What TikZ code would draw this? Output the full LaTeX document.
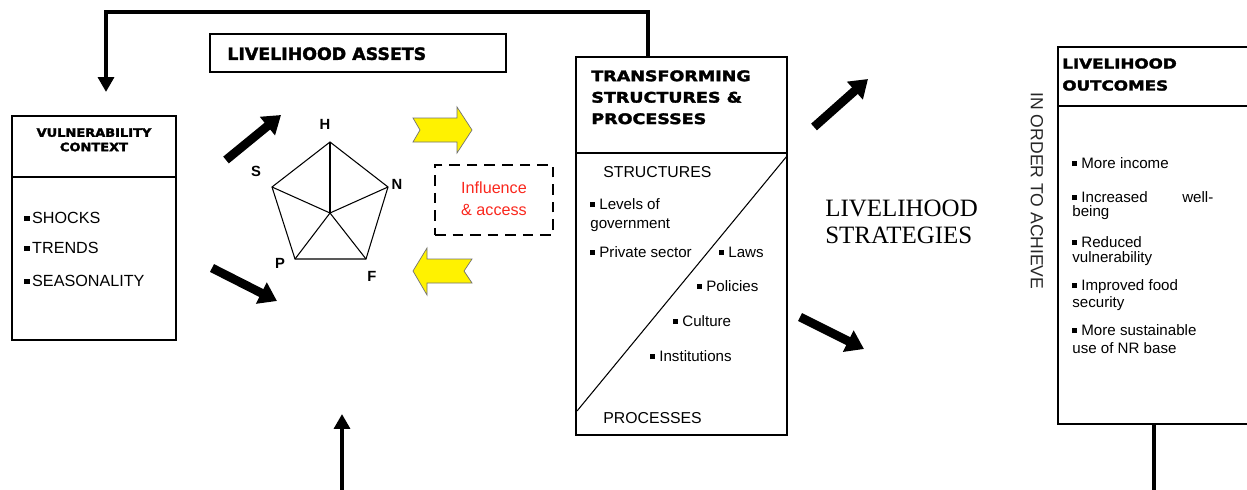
\documentclass[tikz,border=0pt]{standalone}
\usepackage{fontspec}
\setmainfont{Liberation Sans}
\newfontfamily\heavy{DejaVu Sans}[BoldFeatures={FakeBold=2}]
\newfontfamily\serifx{Liberation Serif}
\usetikzlibrary{arrows.meta,fit,calc}
\newcommand\fs[2]{\fontsize{#1}{#2}\selectfont}
\newcommand\hx[2]{\scalebox{#1}[1]{#2}}
\newcommand\bul{\raisebox{0.22ex}{\rule{0.32em}{0.32em}}}
\definecolor{ired}{RGB}{250,40,30}
\begin{document}
\begin{tikzpicture}[x=0.02cm,y=-0.02cm,
  box/.style={draw, line width=0.8pt, inner sep=0pt},
  divline/.style={line width=0.8pt},
  thinline/.style={line width=0.6pt},
  thickarrow/.style={line width=5pt, -{Triangle[length=10pt,width=13pt]}},
  feedback/.style={line width=2.2pt, -{Triangle[length=8.5pt,width=9pt]}},
  feedline/.style={line width=2.2pt},
  itm/.style={anchor=base west, inner sep=0pt, font=\fs{8.6}{10}},
  hv/.style={inner sep=0pt, font=\heavy\bfseries},
  lab/.style={inner sep=0pt, font=\bfseries\fs{8.4}{10}},
  yarrow/.style={fill=yellow, draw=black!55, line width=0.4pt}
]
\useasboundingbox (0,0) rectangle (1247,490);
\fill[white] (0,0) rectangle (1247,490);

% ---------- Vulnerability context ----------
\node[box, fit={(12,116)(176,340)}] (vc) {};
\coordinate (vcdl) at (12,177);
\coordinate (vcdr) at (176,177);
\draw[divline] (vcdl) -- (vcdr);
\node[hv, anchor=north, align=center, font=\heavy\bfseries\fs{6.6}{8.2}] (vct) at (94,128)
  {\hx{1.12}{VULNERABILITY}\\\hx{1.12}{CONTEXT}};
\node[itm, font=\fs{9.2}{11}] (vc1) at (24,223) {\bul\,SHOCKS};
\node[itm, font=\fs{9.2}{11}] (vc2) at (24,253) {\bul\,TRENDS};
\node[itm, font=\fs{9.2}{11}] (vc3) at (24,286) {\bul\,SEASONALITY};

% ---------- Livelihood assets ----------
\node[box, fit={(210,34)(506,72)}] (la) {};
\node[hv, anchor=north west, font=\heavy\bfseries\fs{9.6}{11}] (lat) at (227,47) {\hx{1.03}{LIVELIHOOD ASSETS}};

% ---------- Pentagon ----------
\coordinate (H) at (330,142);
\coordinate (N) at (388,187);
\coordinate (F) at (366,259);
\coordinate (P) at (295,259);
\coordinate (S) at (272,187);
\coordinate (C) at (330,213);
\draw[thinline] (H) -- (N) -- (F) -- (P) -- (S) -- cycle;
\foreach \v in {H,N,F,P,S} \draw[thinline] (C) -- (\v);
\node[lab] (lH) at (325,124) {H};
\node[lab] (lN) at (397,184) {N};
\node[lab] (lF) at (372,276) {F};
\node[lab] (lP) at (280,263) {P};
\node[lab] (lS) at (256,171) {S};

% ---------- Black arrows ----------
\coordinate (a1s) at (226,160); \coordinate (a1e) at (281,115);
\coordinate (a2s) at (212,268); \coordinate (a2e) at (277,301);
\coordinate (a3s) at (814,127); \coordinate (a3e) at (868,79);
\coordinate (a4s) at (800,317); \coordinate (a4e) at (864,349);
\draw[thickarrow] (a1s) -- (a1e);
\draw[thickarrow] (a2s) -- (a2e);
\draw[thickarrow] (a3s) -- (a3e);
\draw[thickarrow] (a4s) -- (a4e);

% ---------- Yellow arrows ----------
\draw[yarrow] (413,118) -- (457,118) -- (457,107) -- (472,130) -- (457,153) -- (457,142) -- (413,142) -- (420,130) -- cycle;
\draw[yarrow] (413,271) -- (427,248) -- (427,259) -- (472,259) -- (464,271) -- (472,283) -- (427,283) -- (427,295) -- cycle;

% ---------- Influence & access ----------
\node[draw, line width=1.3pt, dash pattern=on 6pt off 4pt, inner sep=0pt, fit={(435,165)(553,235)}] (ia) {};
\node[inner sep=0pt, align=center, text=ired, font=\fs{9.2}{12.5}] (iat) at (494,199) {Influence\\\& access};

% ---------- Transforming structures ----------
\node[box, fit={(576,57)(787,435)}] (ts) {};
\coordinate (tsdl) at (576,153);
\coordinate (tsdr) at (787,153);
\draw[divline] (tsdl) -- (tsdr);
\coordinate (dg1) at (787,156);
\coordinate (dg2) at (577,411);
\draw[thinline] (dg1) -- (dg2);
\node[hv, anchor=north west, align=left, font=\heavy\bfseries\fs{8.3}{12.2}] (tst) at (591,70)
  {\hx{1.2}{TRANSFORMING}\\\hx{1.2}{STRUCTURES \&}\\\hx{1.2}{PROCESSES}};
\node[itm, font=\fs{9}{11}] (st) at (603,177.5) {STRUCTURES};
\node[itm] (t1) at (590,209) {\bul{} Levels of};
\node[itm] (t2) at (590,228) {government};
\node[itm] (t3) at (590,257) {\bul{} Private sector};
\node[itm] (t4) at (719,257) {\bul{} Laws};
\node[itm] (t5) at (697,291) {\bul{} Policies};
\node[itm] (t6) at (673,326) {\bul{} Culture};
\node[itm] (t7) at (650,361) {\bul{} Institutions};
\node[itm, font=\fs{9}{11}] (pr) at (603,423) {PROCESSES};

% ---------- Livelihood strategies ----------
\node[anchor=north west, align=left, inner sep=0pt, font=\serifx\fs{14.2}{15.4}] (ls) at (825,200) {LIVELIHOOD\\STRATEGIES};

% ---------- In order to achieve ----------
\node[rotate=-90, inner sep=0pt, font=\fs{10}{11}, text=black!85] (ioa) at (1037,191) {IN ORDER TO ACHIEVE};

% ---------- Livelihood outcomes ----------
\node[box, fit={(1058,47)(1265,424)}] (lo) {};
\coordinate (lodl) at (1058,106);
\coordinate (lodr) at (1265,106);
\draw[divline] (lodl) -- (lodr);
\node[hv, anchor=north west, align=left, font=\heavy\bfseries\fs{7.8}{12.5}] (lot) at (1062,58)
  {\hx{1.22}{LIVELIHOOD}\\\hx{1.22}{OUTCOMES}};
\node[itm] (o1) at (1072,168) {\bul{} More income};
\node[itm] (o2) at (1072,202) {\makebox[141\dimexpr0.02cm\relax][s]{\bul{} Increased\hfill well-}};
\node[itm] (o3) at (1072,216) {being};
\node[itm] (o4) at (1072,247) {\bul{} Reduced};
\node[itm] (o5) at (1072,262) {vulnerability};
\node[itm] (o6) at (1072,290) {\bul{} Improved food};
\node[itm] (o7) at (1072,307) {security};
\node[itm] (o8) at (1072,335) {\bul{} More sustainable};
\node[itm] (o9) at (1072,353) {use of NR base};

% ---------- Feedback connectors ----------
\coordinate (fbs) at (648,57);
\coordinate (fbc) at (648,12);
\coordinate (fbe) at (106,92);
\draw[feedback] (fbs) -- (fbc) -| (fbe);
\coordinate (o1s) at (1154,424);
\coordinate (o1e) at (1154,495);
\draw[feedline] (o1s) -- (o1e);
\coordinate (b1s) at (342,495);
\coordinate (b1e) at (342,414);
\draw[feedback] (b1s) -- (b1e);
\end{tikzpicture}
\end{document}
